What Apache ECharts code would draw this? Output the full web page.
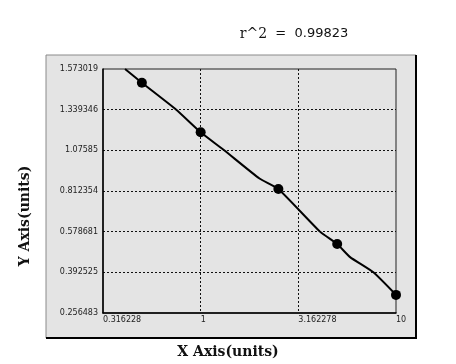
<!DOCTYPE html>
<html>
<head>
<meta charset="utf-8">
<script src="https://cdn.jsdelivr.net/npm/echarts@6/dist/echarts.min.js"></script>
<style>html,body{margin:0;padding:0;background:#fff;}#c{width:456px;height:364px;}</style>
</head>
<body>
<div id="c"></div>
<script>
const xTickLabels = ['0.316228', '1', '3.162278', '10'];
const yTickLabels = ['0.256483', '0.392525', '0.578681', '0.812354', '1.07585', '1.339346', '1.573019'];
const pointX = [0.5, 1, 2.5, 5, 10];
const pointY = [1.494, 1.193, 0.825, 0.522, 0.317];
const curveX = [0.41, 0.5, 0.75, 1, 1.32, 2.0, 2.5, 4.08, 5, 5.82, 7.66, 10];
const curveY = [1.573, 1.494, 1.339, 1.193, 1.076, 0.893, 0.825, 0.579, 0.522, 0.462, 0.3925, 0.317];
const r2Text = 'r^2';
const r2Value = '0.99823';
const xName = 'X Axis(units)';
const yName = 'Y Axis(units)';

const yTickValues = yTickLabels.map(Number);
// The reference's y axis has evenly spaced ticks with uneven values:
// map a value onto the axis by its position between neighbouring ticks.
function yPos(v) {
  const t = yTickValues;
  let i = 0;
  while (i < t.length - 2 && v > t[i + 1]) i++;
  return i + (v - t[i]) / (t[i + 1] - t[i]);
}

const chart = echarts.init(document.getElementById('c'), null, {renderer: 'canvas'});
chart.setOption({
  animation: false,
  backgroundColor: '#ffffff',
  graphic: [
    {type: 'rect', z: -10, silent: true, shape: {x: 46, y: 55, width: 370, height: 283},
     style: {fill: '#e4e4e4', stroke: '#8a8a8a', lineWidth: 1}},
    {type: 'line', z: -9, silent: true, shape: {x1: 416, y1: 55, x2: 416, y2: 339}, style: {stroke: '#000', lineWidth: 2}},
    {type: 'line', z: -9, silent: true, shape: {x1: 46, y1: 338, x2: 417, y2: 338}, style: {stroke: '#000', lineWidth: 2}},
    {type: 'text', x: 294, y: 34, style: {
      text: '{a|' + r2Text + '}{b|  =  ' + r2Value + '}', align: 'center', verticalAlign: 'middle',
      rich: {a: {fontFamily: 'DejaVu Serif', fontSize: 14, fill: '#111'},
             b: {fontFamily: 'DejaVu Sans', fontSize: 13, fill: '#111'}}}},
    {type: 'text', x: 228, y: 352, style: {text: xName, align: 'center', verticalAlign: 'middle',
      fontFamily: 'DejaVu Serif', fontWeight: 'bold', fontSize: 14, fill: '#111'}},
    {type: 'text', x: 25, y: 216, rotation: Math.PI / 2, style: {text: yName, align: 'center', verticalAlign: 'middle',
      fontFamily: 'DejaVu Serif', fontWeight: 'bold', fontSize: 14, fill: '#111'}}
  ],
  grid: {left: 103, top: 69, width: 293, height: 244, show: true, borderColor: '#222', borderWidth: 1, backgroundColor: 'transparent'},
  xAxis: {
    type: 'log', logBase: Math.sqrt(10), min: Math.sqrt(0.1), max: 10,
    axisLine: {lineStyle: {color: '#000', width: 1.5}},
    axisTick: {show: false},
    axisLabel: {
      margin: 3, align: 'left', fontFamily: 'DejaVu Sans', fontSize: 8, color: '#222',
      showMinLabel: true, showMaxLabel: true,
      formatter: v => xTickLabels[Math.round(Math.log10(v) * 2) + 1] || ''
    },
    splitLine: {show: true, showMinLine: false, showMaxLine: false, lineStyle: {type: [2, 2], color: '#111', width: 1}}
  },
  yAxis: {
    type: 'value', min: 0, max: 6, interval: 1,
    axisLine: {show: true, lineStyle: {color: '#000', width: 1.5}},
    axisTick: {show: false},
    axisLabel: {margin: 5, fontFamily: 'DejaVu Sans', fontSize: 8, color: '#222',
      formatter: v => yTickLabels[Math.round(v)] || ''},
    splitLine: {show: true, showMinLine: false, showMaxLine: false, lineStyle: {type: [2, 2], color: '#111', width: 1}}
  },
  series: [
    {type: 'line', data: curveX.map((x, i) => [x, yPos(curveY[i])]), symbol: 'none', smooth: 0.15,
     lineStyle: {color: '#000', width: 2}, clip: true, z: 3},
    {type: 'scatter', data: pointX.map((x, i) => [x, yPos(pointY[i])]), symbol: 'circle', symbolSize: 10,
     itemStyle: {color: '#000', opacity: 1}, clip: false, z: 4}
  ]
});
</script>
</body>
</html>
